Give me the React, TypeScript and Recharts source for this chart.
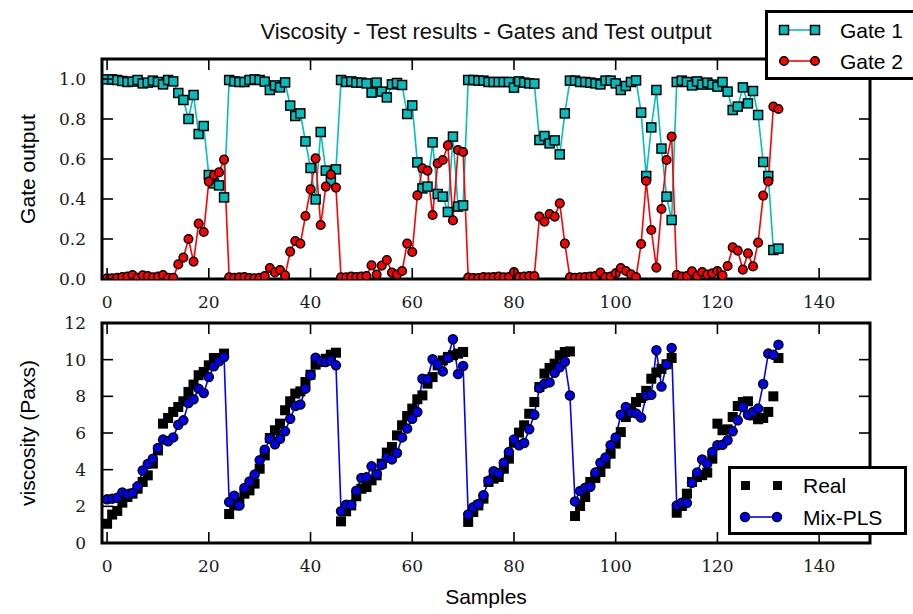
import React from 'react';
import { LineChart, Line, XAxis, YAxis, ReferenceArea, Legend } from 'recharts';

const gate1 = [
  0.998, 0.998, 0.995, 0.99, 0.985, 0.987, 0.995, 0.978, 0.982, 0.992, 0.985, 0.973, 0.995, 0.988,
  0.93, 0.895, 0.8, 0.92, 0.725, 0.765, 0.52, 0.478, 0.468, 0.408,
  0.995, 0.988, 0.985, 0.985, 0.995, 0.998, 0.995, 0.987, 0.945, 0.968, 0.958, 0.983,
  0.867, 0.815, 0.828, 0.688, 0.555, 0.398, 0.735, 0.542, 0.49, 0.548,
  0.995, 0.985, 0.988, 0.982, 0.982, 0.978, 0.932, 0.982, 0.937, 0.908, 0.973, 0.98, 0.97,
  0.825, 0.868, 0.583, 0.453, 0.462, 0.683, 0.425, 0.412, 0.335, 0.712, 0.362, 0.368,
  0.995, 0.995, 0.992, 0.992, 0.985, 0.985, 0.985, 0.985, 0.985, 0.957, 0.988, 0.982, 0.978, 0.977,
  0.695, 0.715, 0.678, 0.693, 0.623, 0.828,
  0.992, 0.992, 0.985, 0.985, 0.982, 0.978, 0.973, 0.992, 0.992, 0.978, 0.945, 0.965, 0.985, 0.993,
  0.832, 0.515, 0.758, 0.945, 0.652, 0.412, 0.295,
  0.985, 0.992, 0.985, 0.968, 0.988, 0.972, 0.982, 0.972, 0.962, 0.985, 0.937, 0.845, 0.862, 0.958,
  0.878, 0.94, 0.82, 0.585, 0.515, 0.145, 0.152,
];

const gate2 = [
  0.003, 0.003, 0.006, 0.01, 0.012, 0.02, 0.006, 0.018, 0.015, 0.008, 0.012, 0.02, 0.006, 0.006,
  0.073, 0.107, 0.2, 0.087, 0.277, 0.235, 0.487, 0.52, 0.533, 0.597,
  0.008, 0.006, 0.008, 0.01, 0.005, 0.004, 0.006, 0.015, 0.055, 0.033, 0.045, 0.018,
  0.137, 0.19, 0.177, 0.315, 0.448, 0.603, 0.27, 0.462, 0.522, 0.457,
  0.008, 0.008, 0.012, 0.01, 0.012, 0.015, 0.068, 0.022, 0.067, 0.095, 0.032, 0.022, 0.04,
  0.177, 0.135, 0.418, 0.553, 0.542, 0.32, 0.578, 0.595, 0.668, 0.293, 0.645, 0.635,
  0.007, 0.005, 0.005, 0.01, 0.008, 0.01, 0.012, 0.008, 0.01, 0.035, 0.01, 0.012, 0.015, 0.015,
  0.312, 0.287, 0.325, 0.312, 0.378, 0.177,
  0.008, 0.006, 0.008, 0.01, 0.012, 0.015, 0.032, 0.01, 0.012, 0.028, 0.055, 0.04, 0.023, 0.01,
  0.175, 0.49, 0.245, 0.057, 0.35, 0.595, 0.712,
  0.02, 0.012, 0.015, 0.038, 0.015, 0.035, 0.022, 0.028, 0.04, 0.018, 0.065, 0.158, 0.142, 0.047,
  0.128, 0.063, 0.182, 0.417, 0.488, 0.862, 0.85,
];

const realVisc = [
  1.05, 1.55, 1.75, 2.2, 2.51, 2.69, 2.96, 3.33, 3.69, 4.33, 5.05, 6.51, 6.82, 7.15, 7.42, 7.73,
  8.24, 8.64, 9.15, 9.33, 9.69, 10.09, 10.09, 10.33,
  1.58, 2.05, 2.24, 2.69, 2.87, 3.24, 4.05, 4.78, 5.73, 6.15, 6.51, 7.24, 7.73, 8.15, 8.27, 8.78,
  9.18, 9.73, 9.87, 10.05, 10.27, 10.38,
  1.18, 1.73, 2.05, 2.55, 2.96, 3.05, 3.42, 3.69, 4.33, 4.93, 5.24, 5.87, 6.42, 6.93, 7.33, 7.84,
  8.05, 8.69, 9.05, 9.69, 9.96, 10.15, 10.24, 10.33, 10.42,
  1.15, 1.69, 2.05, 2.42, 3.33, 3.51, 3.6, 4.05, 4.6, 5.47, 6.02, 6.42, 7.05, 7.69, 8.51, 9.24,
  9.55, 9.78, 10.24, 10.42, 10.45,
  1.47, 2.02, 2.51, 3.33, 3.55, 3.87, 4.33, 4.87, 5.42, 6.05, 6.87, 7.33, 7.69, 7.91, 8.3, 8.96,
  9.3, 9.5, 9.75, 10.09,
  1.65, 2.02, 2.69, 3.33, 3.6, 3.7, 3.84, 4.6, 6.51, 6.15, 6.2, 6.87, 7.47, 7.69, 7.73, 6.96,
  6.75, 6.82, 7.15, 8.0, 10.09,
];

const mixPls = [
  2.38, 2.42, 2.47, 2.75, 2.65, 2.73, 3.09, 3.95, 4.31, 4.6, 5.18, 5.64, 5.55, 5.76, 6.45, 6.69,
  7.64, 7.84, 8.42, 8.18, 9.05, 9.64, 9.91, 10.15,
  2.24, 2.58, 2.04, 3.0, 3.36, 3.73, 4.51, 5.09, 5.69, 5.38, 5.69, 6.09, 6.78, 7.47, 7.55, 8.42,
  9.15, 10.11, 9.91, 9.87, 9.95, 9.69,
  1.73, 2.09, 2.09, 2.85, 3.55, 3.58, 4.18, 3.76, 4.27, 4.67, 4.56, 4.91, 5.76, 6.24, 6.78, 7.15,
  8.96, 8.93, 10.02, 9.75, 9.36, 10.09, 11.11, 9.22, 9.65,
  1.55, 1.95, 2.13, 2.6, 3.4, 3.91, 3.8, 4.38, 4.96, 5.65, 5.33, 5.45, 6.2, 7.0, 8.45, 8.69,
  8.76, 9.29, 9.58, 9.89, 8.05,
  2.27, 2.84, 3.02, 3.07, 3.84, 4.38, 4.67, 5.33, 5.75, 7.0, 7.42, 7.11, 7.07, 6.84, 8.05, 8.09,
  10.51, 8.53, 9.73, 10.64,
  2.05, 2.2, 2.18, 3.29, 3.84, 4.55, 4.33, 4.96, 5.33, 5.36, 5.6, 6.09, 6.69, 7.42, 7.0, 7.15,
  7.33, 8.67, 10.33, 10.27, 10.82,
];

const sampleIndex = gate1.map((_, i) => i);
const xTicks = [0, 20, 40, 60, 80, 100, 120, 140];
const gateTicks = [0, 0.2, 0.4, 0.6, 0.8, 1.0];
const viscTicks = [0, 2, 4, 6, 8, 10, 12];
const xDomain = [-1, 150];
const gateDomain = [0, 1.1];
const viscDomain = [0, 12];

const gateData = sampleIndex.map((s, i) => ({ sample: s, g1: gate1[i], g2: gate2[i] }));
const viscData = sampleIndex.map((s, i) => ({ sample: s, real: realVisc[i], mix: mixPls[i] }));

const W = 913;
const H = 614;
const PL = 102;
const PR = 870;
const TOP1 = 59;
const BOT1 = 279;
const TOP2 = 323;
const BOT2 = 543;
const XAXIS_H = 30;
const YAXIS_W = 60;
const TICK_LEN = 11;
const SERIF = "'DejaVu Serif', serif";
const SANS = "'Liberation Sans', Arial, sans-serif";
const CYAN = '#00BFBF';
const RED = '#FF0000';
const BLUE = '#0000FF';

const makeXTick = (plotTop: number) => (props: any) => {
  const { x, y, payload } = props;
  return (
    <g>
      <line x1={x} x2={x} y1={y} y2={y - TICK_LEN} stroke="#000" strokeWidth={1.6} />
      <line x1={x} x2={x} y1={plotTop} y2={plotTop + TICK_LEN} stroke="#000" strokeWidth={1.6} />
      <text x={x} y={y + 23} textAnchor="middle" dominantBaseline="central" fontFamily={SERIF} fontSize={17} fill="#1a1a1a">
        {payload.value}
      </text>
    </g>
  );
};

const makeYTick = (digits: number) => (props: any) => {
  const { x, y, payload } = props;
  return (
    <g>
      <line x1={x} x2={x + TICK_LEN} y1={y} y2={y} stroke="#000" strokeWidth={1.6} />
      <line x1={PR} x2={PR - TICK_LEN} y1={y} y2={y} stroke="#000" strokeWidth={1.6} />
      <text x={x - 16} y={y} textAnchor="end" dominantBaseline="central" fontFamily={SERIF} fontSize={17} fill="#1a1a1a">
        {Number(payload.value).toFixed(digits)}
      </text>
    </g>
  );
};

const squareDot = (fill: string, size: number) => (props: any) => {
  const { cx, cy, index } = props;
  if (cx == null || cy == null) return <g key={`e-${index}`} />;
  return (
    <rect
      key={`sq-${fill}-${index}`}
      x={cx - size / 2}
      y={cy - size / 2}
      width={size}
      height={size}
      fill={fill}
      stroke="#000"
      strokeWidth={1.5}
    />
  );
};

const legendText = { fontFamily: SANS, fontSize: 21, fill: '#000' } as const;

const GateLegend = () => (
  <svg width={180} height={72} style={{ display: 'block' }}>
    <rect x={1.5} y={1.5} width={180} height={67} fill="#fff" stroke="#000" strokeWidth={3} />
    <line x1={19} x2={50} y1={20} y2={20} stroke={CYAN} strokeWidth={1.6} />
    <rect x={14.5} y={15.5} width={9} height={9} fill={CYAN} stroke="#000" strokeWidth={1.5} />
    <rect x={45.5} y={15.5} width={9} height={9} fill={CYAN} stroke="#000" strokeWidth={1.5} />
    <text x={75} y={20} dominantBaseline="central" {...legendText}>Gate 1</text>
    <line x1={19} x2={50} y1={51} y2={51} stroke={RED} strokeWidth={1.6} />
    <circle cx={19} cy={51} r={4.3} fill={RED} stroke="#000" strokeWidth={1.5} />
    <circle cx={50} cy={51} r={4.3} fill={RED} stroke="#000" strokeWidth={1.5} />
    <text x={75} y={51} dominantBaseline="central" {...legendText}>Gate 2</text>
  </svg>
);

const ViscLegend = () => (
  <svg width={180} height={70} style={{ display: 'block' }}>
    <rect x={1.5} y={1.5} width={176} height={66} fill="#fff" stroke="#000" strokeWidth={3} />
    <rect x={13} y={15} width={9} height={9} fill="#000" />
    <rect x={45} y={15} width={9} height={9} fill="#000" />
    <text x={75} y={19.5} dominantBaseline="central" {...legendText}>Real</text>
    <line x1={17} x2={49} y1={51} y2={51} stroke={BLUE} strokeWidth={1.6} />
    <circle cx={17} cy={51} r={4.5} fill={BLUE} stroke="#000" strokeWidth={1.5} />
    <circle cx={49} cy={51} r={4.5} fill={BLUE} stroke="#000" strokeWidth={1.5} />
    <text x={75} y={51} dominantBaseline="central" {...legendText}>Mix-PLS</text>
  </svg>
);

const labelStyle = { textAnchor: 'middle', fontFamily: SANS, fontSize: 21, fill: '#000' } as any;

export default function App() {
  return (
    <div style={{ position: 'absolute', left: 0, top: 0, width: W, height: H, overflow: 'hidden', background: '#fff' }}>
      <div
        style={{
          position: 'absolute',
          left: PL,
          top: 20,
          width: PR - PL,
          textAlign: 'center',
          fontFamily: SANS,
          fontSize: 22,
          lineHeight: '24px',
          color: '#111',
        }}
      >
        Viscosity - Test results - Gates and Test output
      </div>

      <div style={{ position: 'absolute', left: 0, top: 0 }}>
        <LineChart
          width={W}
          height={H}
          data={gateData}
          margin={{ top: TOP1, right: W - PR, bottom: H - BOT1 - XAXIS_H, left: PL - YAXIS_W }}
        >
          <XAxis
            dataKey="sample"
            type="number"
            domain={xDomain}
            ticks={xTicks}
            interval={0}
            allowDataOverflow
            height={XAXIS_H}
            axisLine={false}
            tickLine={false}
            tickSize={0}
            tickMargin={0}
            tick={makeXTick(TOP1)}
          />
          <YAxis
            type="number"
            domain={gateDomain}
            ticks={gateTicks}
            interval={0}
            allowDataOverflow
            width={YAXIS_W}
            axisLine={false}
            tickLine={false}
            tickSize={0}
            tickMargin={0}
            tick={makeYTick(1)}
            label={{ value: 'Gate output', angle: -90, position: 'insideLeft', offset: -14, style: labelStyle }}
          />
          <Line
            dataKey="g1"
            name="Gate 1"
            stroke={CYAN}
            strokeWidth={1.6}
            isAnimationActive={false}
            dot={squareDot(CYAN, 9)}
            activeDot={false}
          />
          <Line
            dataKey="g2"
            name="Gate 2"
            stroke={RED}
            strokeWidth={1.6}
            isAnimationActive={false}
            dot={{ r: 4.3, fill: RED, stroke: '#000', strokeWidth: 1.5 }}
            activeDot={false}
          />
          <ReferenceArea x1={xDomain[0]} x2={xDomain[1]} y1={gateDomain[0]} y2={gateDomain[1]} fill="none" stroke="#000" strokeWidth={3} fillOpacity={0} />
          <Legend
            layout="vertical"
            align="center"
            verticalAlign="middle"
            wrapperStyle={{ left: 765, top: 10, width: 180, height: 72, margin: 0 }}
            content={() => <GateLegend />}
          />
        </LineChart>
      </div>

      <div style={{ position: 'absolute', left: 0, top: 0 }}>
        <LineChart
          width={W}
          height={H}
          data={viscData}
          margin={{ top: TOP2, right: W - PR, bottom: H - BOT2 - XAXIS_H, left: PL - YAXIS_W }}
        >
          <XAxis
            dataKey="sample"
            type="number"
            domain={xDomain}
            ticks={xTicks}
            interval={0}
            allowDataOverflow
            height={XAXIS_H}
            axisLine={false}
            tickLine={false}
            tickSize={0}
            tickMargin={0}
            tick={makeXTick(TOP2)}
            label={{ value: 'Samples', position: 'bottom', offset: 16, style: labelStyle }}
          />
          <YAxis
            type="number"
            domain={viscDomain}
            ticks={viscTicks}
            interval={0}
            allowDataOverflow
            width={YAXIS_W}
            axisLine={false}
            tickLine={false}
            tickSize={0}
            tickMargin={0}
            tick={makeYTick(0)}
            label={{ value: 'viscosity (Paxs)', angle: -90, position: 'insideLeft', offset: -14, style: labelStyle }}
          />
          <Line
            dataKey="real"
            name="Real"
            stroke="none"
            strokeWidth={0}
            isAnimationActive={false}
            dot={squareDot('#000', 8.5)}
            activeDot={false}
          />
          <Line
            dataKey="mix"
            name="Mix-PLS"
            stroke={BLUE}
            strokeWidth={1.6}
            isAnimationActive={false}
            dot={{ r: 4.5, fill: BLUE, stroke: '#000', strokeWidth: 1.5 }}
            activeDot={false}
          />
          <ReferenceArea x1={xDomain[0]} x2={xDomain[1]} y1={viscDomain[0]} y2={viscDomain[1]} fill="none" stroke="#000" strokeWidth={3} fillOpacity={0} />
          <Legend
            layout="vertical"
            align="center"
            verticalAlign="middle"
            wrapperStyle={{ left: 728, top: 466, width: 180, height: 70, margin: 0 }}
            content={() => <ViscLegend />}
          />
        </LineChart>
      </div>
    </div>
  );
}
